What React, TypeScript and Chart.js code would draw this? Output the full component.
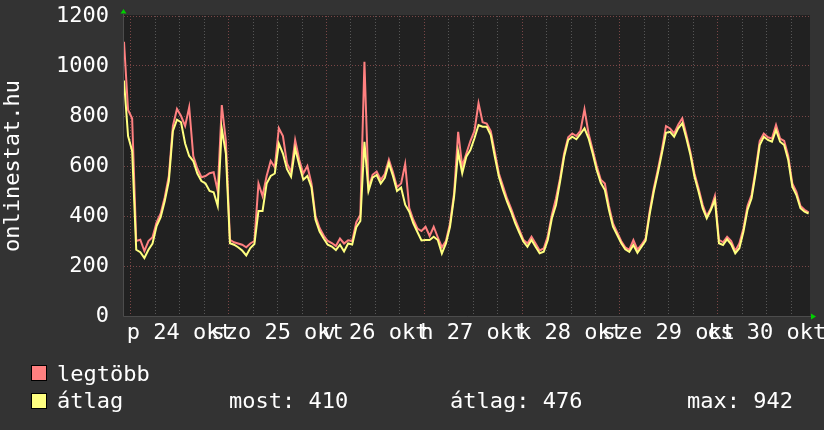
import React, { useEffect, useRef } from 'react';
import { Chart, registerables } from 'chart.js';

Chart.register(...registerables);

// ---- data (hourly samples, hour 0 = graph start, 1.7 h before 24 Oct 00:00) ----
const MIDNIGHT_OFFSET_H = 1.7;
const GRAPH_SPAN_H = 168.34;

const dayLabels = ['p 24 okt', 'szo 25 okt', 'v 26 okt', 'h 27 okt', 'k 28 okt', 'sze 29 okt', 'cs 30 okt'];

const avgValues = [
  942, 720, 660, 265, 255, 232, 265, 290, 360, 395,
  460, 540, 740, 785, 775, 690, 640, 620, 570, 540,
  530, 500, 495, 440, 750, 650, 291, 285, 275, 262,
  242, 272, 288, 420, 420, 530, 560, 570, 690, 650,
  587, 557, 670, 605, 545, 560, 515, 385, 338, 310,
  285, 278, 264, 285, 258, 290, 286, 355, 380, 697,
  500, 553, 564, 530, 553, 611, 560, 500, 514, 445,
  417, 371, 336, 302, 304, 304, 317, 304, 250, 290,
  357, 477, 657, 571, 637, 664, 711, 764, 757, 757,
  724, 637, 557, 504, 457, 417, 371, 334, 298, 277,
  304, 277, 251, 257, 304, 391, 444, 537, 637, 704,
  717, 707, 728, 751, 711, 651, 584, 533, 504, 424,
  357, 325, 292, 267, 257, 284, 253, 277, 301, 408,
  497, 571, 651, 733, 737, 717, 751, 771, 711, 644,
  557, 497, 431, 391, 424, 464, 291, 284, 307, 287,
  251, 271, 337, 424, 471, 571, 684, 717, 704, 697,
  744, 697, 684, 624, 517, 484, 431, 417, 410,
];

const maxValues = [
  1097, 824, 790, 300, 305, 260, 300, 315, 375, 410,
  475, 560, 760, 828, 800, 760, 835, 640, 590, 555,
  560, 571, 575, 500, 844, 700, 305, 295, 290, 285,
  275, 290, 300, 530, 480, 560, 620, 595, 751, 720,
  610, 575, 704, 625, 570, 600, 530, 400, 352, 322,
  300, 292, 280, 310, 290, 303, 300, 375, 405, 1017,
  512, 565, 578, 545, 568, 625, 575, 515, 530, 608,
  432, 385, 350, 340, 357, 320, 357, 315, 275, 300,
  370, 490, 737, 600, 650, 700, 740, 851, 775, 770,
  740, 655, 570, 520, 470, 430, 385, 345, 305, 290,
  317, 290, 262, 270, 320, 405, 470, 550, 650, 715,
  730, 720, 740, 827, 730, 665, 600, 545, 530, 440,
  370, 335, 300, 275, 265, 304, 265, 285, 310, 420,
  510, 585, 665, 760, 750, 730, 765, 791, 725, 655,
  570, 510, 445, 400, 430, 480, 305, 295, 317, 300,
  260, 290, 350, 440, 485, 585, 700, 730, 715, 710,
  764, 710, 700, 640, 530, 497, 440, 425, 415,
];

const yTickValues = [0, 100, 200, 300, 400, 500, 600, 700, 800, 900, 1000, 1100, 1200];
const yLabelStep = 200;
const statsNow = 410;
const statsAvg = 476;
const statsMax = 942;

// ---- styling ----
const FONT = '"DejaVu Sans Mono", monospace';
const BG = '#333333';
const PLOT_BG = '#212121';
const GRID_MINOR = '#565656';
const GRID_MAJOR = '#7a4646';
const AXIS = '#4c4c4c';
const RED = '#ff8080';
const YELLOW = '#ffff80';
const ARROW = '#00d000';

const xTickValues: number[] = [];
for (let n = 0; MIDNIGHT_OFFSET_H + 6 * n < GRAPH_SPAN_H; n++) xTickValues.push(MIDNIGHT_OFFSET_H + 6 * n);
const sixHourIndex = (v: number) => Math.round((v - MIDNIGHT_OFFSET_H) / 6);

const decorPlugin = {
  id: 'decor',
  beforeDraw(chart: any) {
    const { ctx, chartArea: a } = chart;
    ctx.save();
    ctx.fillStyle = BG;
    ctx.fillRect(0, 0, chart.width, chart.height);
    ctx.fillStyle = PLOT_BG;
    ctx.fillRect(a.left, a.top - 1, a.right - a.left, a.bottom - a.top + 1);
    ctx.restore();
  },
  afterDatasetsDraw(chart: any) {
    const { ctx, chartArea: a } = chart;
    ctx.save();
    ctx.strokeStyle = AXIS;
    ctx.lineWidth = 1;
    ctx.beginPath();
    ctx.moveTo(a.left - 0.5, a.bottom + 0.5);
    ctx.lineTo(a.right + 1, a.bottom + 0.5);
    ctx.moveTo(a.left - 0.5, a.bottom + 0.5);
    ctx.lineTo(a.left - 0.5, a.top - 2);
    ctx.stroke();
    ctx.fillStyle = ARROW;
    ctx.beginPath();
    ctx.moveTo(a.left - 0.5, a.top - 7);
    ctx.lineTo(a.left - 3.5, a.top - 2.5);
    ctx.lineTo(a.left + 2.5, a.top - 2.5);
    ctx.closePath();
    ctx.fill();
    ctx.beginPath();
    ctx.moveTo(a.right + 6, a.bottom + 0.5);
    ctx.lineTo(a.right + 1, a.bottom - 2.5);
    ctx.lineTo(a.right + 1, a.bottom + 3.5);
    ctx.closePath();
    ctx.fill();
    ctx.restore();
  },
};

export default function App() {
  const ref = useRef<HTMLCanvasElement>(null);

  useEffect(() => {
    const canvas = ref.current;
    if (!canvas) return;
    const chart = new Chart(canvas, {
      type: 'line',
      data: {
        datasets: [
          {
            label: 'átlag',
            data: avgValues.map((v, i) => ({ x: i, y: v })),
            borderColor: YELLOW,
            backgroundColor: YELLOW,
            borderWidth: 2,
            pointRadius: 0,
            tension: 0,
            fill: false,
            order: 0,
          },
          {
            label: 'legtöbb',
            data: maxValues.map((v, i) => ({ x: i, y: v })),
            borderColor: RED,
            backgroundColor: RED,
            borderWidth: 2,
            pointRadius: 0,
            tension: 0,
            fill: false,
            order: 1,
          },
        ],
      },
      options: {
        animation: false,
        responsive: false,
        devicePixelRatio: 1,
        layout: { padding: { left: 0, right: 14, top: 16, bottom: 84 } },
        plugins: { legend: { display: false }, tooltip: { enabled: false } },
        scales: {
          x: {
            type: 'linear',
            min: 0,
            max: GRAPH_SPAN_H,
            afterBuildTicks: (scale: any) => {
              scale.ticks = xTickValues.map((v) => ({ value: v }));
            },
            afterFit: (scale: any) => {
              scale.height = 30;
              scale.paddingLeft = 0;
              scale.paddingRight = 0;
            },
            grid: {
              drawTicks: false,
              lineWidth: 1,
              color: (c: any) => (c.tick && sixHourIndex(c.tick.value) % 4 === 0 ? GRID_MAJOR : GRID_MINOR),
            },
            border: { display: false, dash: [1, 2] },
            ticks: {
              autoSkip: false,
              maxRotation: 0,
              minRotation: 0,
              padding: 4,
              color: '#ffffff',
              font: { family: FONT, size: 22 },
              callback: (v: any) => {
                const n = sixHourIndex(Number(v));
                return n % 4 === 2 ? dayLabels[(n - 2) / 4] ?? '' : '';
              },
            },
          },
          y: {
            type: 'linear',
            min: 0,
            max: 1200,
            afterBuildTicks: (scale: any) => {
              scale.ticks = yTickValues.map((v) => ({ value: v }));
            },
            afterFit: (scale: any) => {
              scale.width = 124;
              scale.paddingTop = 0;
              scale.paddingBottom = 0;
            },
            grid: {
              drawTicks: false,
              lineWidth: 1,
              color: (c: any) => (c.tick && c.tick.value % yLabelStep === 0 ? GRID_MAJOR : GRID_MINOR),
            },
            border: { display: false, dash: [1, 2] },
            title: {
              display: true,
              text: 'onlinestat.hu',
              color: '#ffffff',
              font: { family: FONT, size: 22 },
              padding: { top: 0, bottom: 0 },
            },
            ticks: {
              padding: 15,
              color: '#ffffff',
              font: { family: FONT, size: 22 },
              callback: (v: any) => (Number(v) % yLabelStep === 0 ? String(v) : ''),
            },
          },
        },
      },
      plugins: [decorPlugin],
    } as any);
    return () => chart.destroy();
  }, []);

  const textStyle: React.CSSProperties = {
    position: 'absolute',
    fontFamily: FONT,
    fontSize: 22,
    lineHeight: '22px',
    color: '#ffffff',
    whiteSpace: 'pre',
  };
  const swatch = (color: string, top: number): React.CSSProperties => ({
    position: 'absolute',
    left: 31,
    top,
    width: 16,
    height: 16,
    boxSizing: 'border-box',
    border: '1px solid #000',
    background: color,
  });

  return (
    <div style={{ position: 'absolute', left: 0, top: 0, width: 824, height: 430, background: BG, overflow: 'hidden' }}>
      <canvas ref={ref} width={824} height={430} style={{ display: 'block' }} />
      <div style={swatch(RED, 365)} />
      <div style={{ ...textStyle, left: 57, top: 363 }}>legtöbb</div>
      <div style={swatch(YELLOW, 393)} />
      <div style={{ ...textStyle, left: 57, top: 390 }}>átlag</div>
      <div style={{ ...textStyle, left: 229, top: 390 }}>{`most: ${statsNow}`}</div>
      <div style={{ ...textStyle, left: 450, top: 390 }}>{`átlag: ${statsAvg}`}</div>
      <div style={{ ...textStyle, left: 687, top: 390 }}>{`max: ${statsMax}`}</div>
    </div>
  );
}
